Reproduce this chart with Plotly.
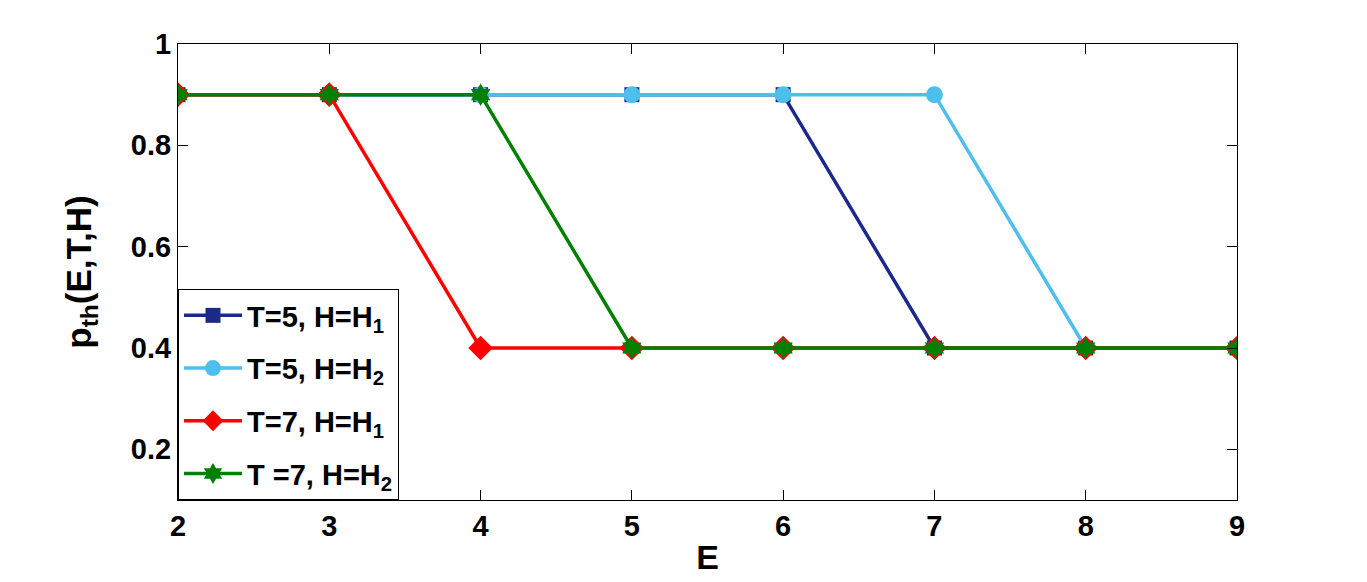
import plotly.graph_objects as go

E = [2, 3, 4, 5, 6, 7, 8, 9]
p_T5_H1 = [0.9, 0.9, 0.9, 0.9, 0.9, 0.4, 0.4, 0.4]
p_T5_H2 = [0.9, 0.9, 0.9, 0.9, 0.9, 0.9, 0.4, 0.4]
p_T7_H1 = [0.9, 0.9, 0.4, 0.4, 0.4, 0.4, 0.4, 0.4]
p_T7_H2 = [0.9, 0.9, 0.9, 0.4, 0.4, 0.4, 0.4, 0.4]

series = [
    ("T=5, H=H<sub>1</sub>", p_T5_H1, "#1B2A8A", "square", 15),
    ("T=5, H=H<sub>2</sub>", p_T5_H2, "#4DBFED", "circle", 17),
    ("T=7, H=H<sub>1</sub>", p_T7_H1, "#FF0000", "diamond", 19),
    ("T =7, H=H<sub>2</sub>", p_T7_H2, "#008000", "hexagram", 17),
]

FONT = "Liberation Sans, Arial, sans-serif"

fig = go.Figure()
for i, (name, y, color, sym, size) in enumerate(series):
    fig.add_trace(go.Scatter(
        x=E, y=y, name=name, mode="lines+markers", legendgroup=f"g{i}",
        line=dict(color=color, width=3.5),
        marker=dict(symbol=sym, size=size, color=color, line=dict(width=0)),
    ))

axis_common = dict(
    showline=True, linecolor="black", linewidth=1, mirror="ticks",
    ticks="inside", ticklen=10, tickwidth=1, tickcolor="black",
    showgrid=False, zeroline=False,
    tickfont=dict(family=FONT, size=29, color="black", weight="bold"),
)

# Page has an 8px body margin; figure sized to fit the 1367x582 window.
fig.update_layout(
    width=1359, height=574,
    margin=dict(l=170, r=130, t=36, b=77),
    paper_bgcolor="white", plot_bgcolor="white",
    font=dict(family=FONT, color="black"),
    xaxis=dict(range=[2, 9], tickvals=[2, 3, 4, 5, 6, 7, 8, 9],
               title=dict(text="<b>E</b>", font=dict(family=FONT, size=34), standoff=4),
               **axis_common),
    yaxis=dict(range=[0.1, 1], tickvals=[0.2, 0.4, 0.6, 0.8, 1],
               ticktext=["0.2", "0.4", "0.6", "0.8", "1"],
               title=dict(text="<b>p<sub>th</sub>(E,T,H)</b>", font=dict(family=FONT, size=35), standoff=28),
               **axis_common),
    legend=dict(x=0, y=0, xanchor="left", yanchor="bottom",
                bordercolor="black", borderwidth=1, bgcolor="white",
                font=dict(family=FONT, size=29, color="black", weight="bold"),
                itemwidth=58, tracegroupgap=12),
    showlegend=True,
)

fig.write_html("out.html")
